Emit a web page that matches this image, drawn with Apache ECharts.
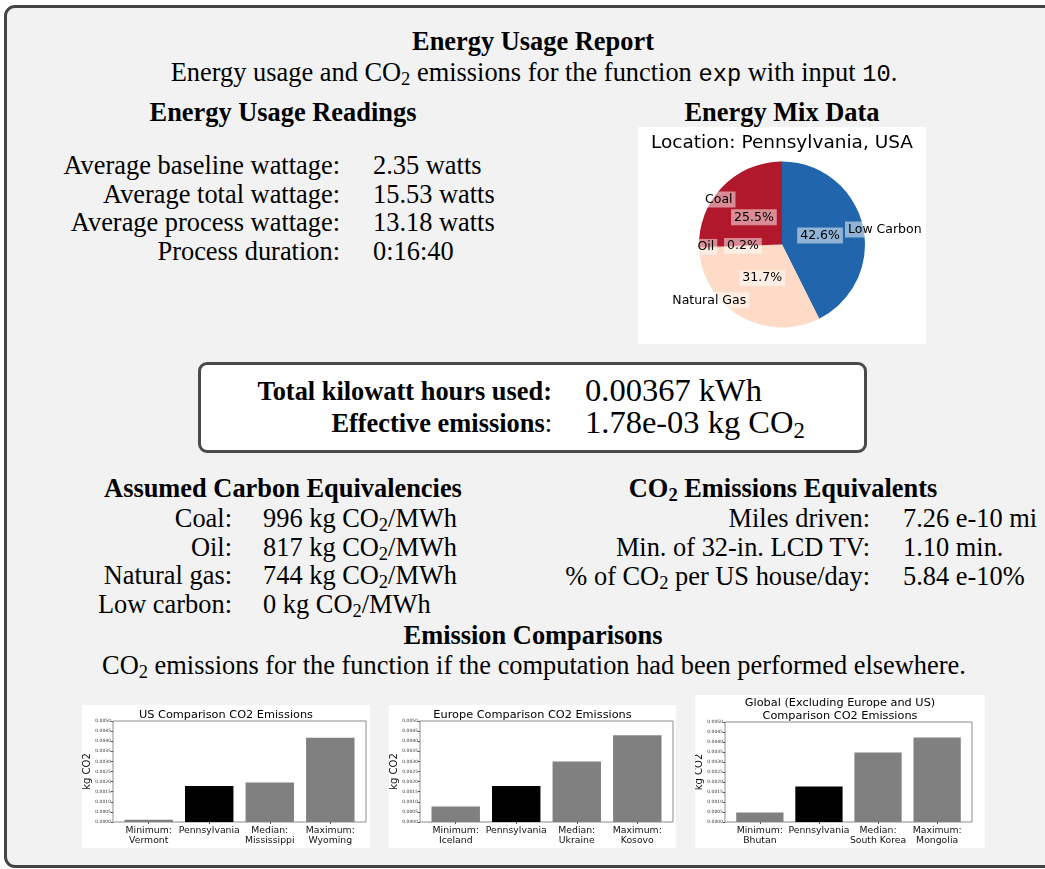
<!DOCTYPE html>
<html><head><meta charset="utf-8">
<script src="https://cdn.jsdelivr.net/npm/echarts@6/dist/echarts.min.js"></script>
<style>
html,body{margin:0;padding:0;background:#fff;width:1045px;height:869px;overflow:hidden;position:relative;}
#frame{position:absolute;left:4px;top:5px;width:1100px;height:863px;box-sizing:border-box;border:3px solid #444;border-radius:11px;background:#f2f2f2;}
.t{position:absolute;font-family:"Liberation Serif","Times New Roman",serif;font-size:26px;line-height:30px;white-space:nowrap;color:#000;}
.t sub{font-size:0.7em;vertical-align:-0.22em;line-height:0;}
.tt{font-family:"Liberation Mono",monospace;font-size:0.9em;}
#box{position:absolute;left:198px;top:362px;width:669px;height:91px;box-sizing:border-box;border:3px solid #4a4a4a;border-radius:9px;background:#fff;}
.chart{position:absolute;background:#fff;}
</style></head>
<body>
<div id="frame"></div>
<div id="box"></div>
<div id="pie" class="chart" style="left:638px;top:127px;width:288px;height:217px;"></div>
<div id="barUS" class="chart" style="left:82px;top:705px;width:288px;height:143px;"></div>
<div id="barEU" class="chart" style="left:389px;top:705px;width:287px;height:143px;"></div>
<div id="barGL" class="chart" style="left:695px;top:695px;width:290px;height:153px;"></div>
<script>
// ---------------- data ----------------
const reportTitle = 'Energy Usage Report';
const reportSubtitle = 'Energy usage and CO<sub>2</sub> emissions for the function <span class="tt">exp</span> with input <span class="tt">10</span>.';
const readingLabels = ['Average baseline wattage:', 'Average total wattage:', 'Average process wattage:', 'Process duration:'];
const readingValues = ['2.35 watts', '15.53 watts', '13.18 watts', '0:16:40'];
const boxLabels = ['<b>Total kilowatt hours used:</b>', '<b>Effective emissions</b>:'];
const boxValues = ['0.00367 kWh', '1.78e-03 kg CO<sub>2</sub>'];
const carbonLabels = ['Coal:', 'Oil:', 'Natural gas:', 'Low carbon:'];
const carbonValues = ['996', '817', '744', '0'];
const equivLabels = ['Miles driven:', 'Min. of 32-in. LCD TV:', '% of CO<sub>2</sub> per US house/day:'];
const equivValues = ['7.26 e-10 mi', '1.10 min.', '5.84 e-10%'];

const mixTitle = 'Location: Pennsylvania, USA';
const mixNames = ['Low Carbon', 'Natural Gas', 'Oil', 'Coal'];
const mixPercents = [42.6, 31.7, 0.2, 25.5];
const mixColors = ['#2166ac', '#fddbc7', '#ef8a62', '#b2182b'];

const usTitle = 'US Comparison CO2 Emissions';
const usCategories = ['Minimum:\nVermont', 'Pennsylvania', 'Median:\nMississippi', 'Maximum:\nWyoming'];
const usValues = [0.00011, 0.00178, 0.00195, 0.00417];
const euTitle = 'Europe Comparison CO2 Emissions';
const euCategories = ['Minimum:\nIceland', 'Pennsylvania', 'Median:\nUkraine', 'Maximum:\nKosovo'];
const euValues = [0.00077, 0.00178, 0.00299, 0.00429];
const glTitle = 'Global (Excluding Europe and US)\nComparison CO2 Emissions';
const glCategories = ['Minimum:\nBhutan', 'Pennsylvania', 'Median:\nSouth Korea', 'Maximum:\nMongolia'];
const glValues = [0.00048, 0.00178, 0.00347, 0.00422];
const yMax = 0.005, yStep = 0.0005;
const homeName = 'Pennsylvania';

// ---------------- text layout ----------------
function txt(html, o) {
  const d = document.createElement('div');
  d.className = 't';
  d.innerHTML = html;
  const fs = o.fs || 26.4, lh = Math.round(fs * 1.15);
  d.style.fontSize = fs + 'px';
  d.style.lineHeight = lh + 'px';
  d.style.top = (o.cy - lh / 2) + 'px';
  if (o.bold) d.style.fontWeight = 'bold';
  if (o.cx !== undefined) { d.style.left = (o.cx - 500) + 'px'; d.style.width = '1000px'; d.style.textAlign = 'center'; }
  else if (o.rx !== undefined) { d.style.left = (o.rx - 600) + 'px'; d.style.width = '600px'; d.style.textAlign = 'right'; }
  else { d.style.left = o.lx + 'px'; }
  document.body.appendChild(d);
}
txt(reportTitle, {cx: 533, cy: 41, bold: true});
txt(reportSubtitle, {cx: 534, cy: 72});
txt('Energy Usage Readings', {cx: 283, cy: 112, bold: true});
txt('Energy Mix Data', {cx: 782, cy: 112, bold: true});
readingLabels.forEach((l, i) => {
  const cy = 165 + i * 28.7;
  txt(l, {rx: 340, cy});
  txt(readingValues[i], {lx: 373, cy});
});
boxLabels.forEach((l, i) => {
  const cy = 391 + i * 32;
  txt(l, {rx: 552, cy});
  txt(boxValues[i], {lx: 585, cy: cy - 1, fs: 32.5});
});
txt('Assumed Carbon Equivalencies', {cx: 283, cy: 488, bold: true});
carbonLabels.forEach((l, i) => {
  const cy = 518 + i * 28.7;
  txt(l, {rx: 232, cy});
  txt(carbonValues[i] + ' kg CO<sub>2</sub>/MWh', {lx: 263, cy});
});
txt('CO<sub>2</sub> Emissions Equivalents', {cx: 783, cy: 488, bold: true});
equivLabels.forEach((l, i) => {
  const cy = 518 + i * 29;
  txt(l, {rx: 870, cy});
  txt(equivValues[i], {lx: 903, cy});
});
txt('Emission Comparisons', {cx: 533, cy: 635, bold: true});
txt('CO<sub>2</sub> emissions for the function if the computation had been performed elsewhere.', {cx: 534, cy: 665});

// ---------------- pie ----------------
const sans = 'DejaVu Sans';
const labelBox = {fontFamily: sans, fontSize: 12.5, color: '#000', backgroundColor: 'rgba(255,255,255,0.5)', padding: [2, 3, 1, 3]};
const pieData = mixNames.map((n, i) => ({name: n, value: mixPercents[i], itemStyle: {color: mixColors[i]}}));
const pieData2 = mixNames.map((n, i) => ({name: n, value: mixPercents[i]}));
const pieCenter = [144, 117.5], pieR = 83;
const pie = echarts.init(document.getElementById('pie'), null, {renderer: 'canvas'});
pie.setOption({
  animation: false,
  title: {text: mixTitle, left: 'center', top: 7, padding: 0, textStyle: {fontFamily: sans, fontSize: 18.5, fontWeight: 'normal', color: '#000'}},
  series: [
    {type: 'pie', center: pieCenter, radius: pieR, startAngle: 90, clockwise: true, silent: true,
     label: {show: false}, labelLine: {show: false}, data: pieData},
    {type: 'pie', center: pieCenter, radius: [0, pieR * 0.87], startAngle: 90, clockwise: true, silent: true,
     percentPrecision: 1, itemStyle: {color: 'rgba(0,0,0,0)'},
     label: Object.assign({show: true, position: 'inside', formatter: '{d}%'}, labelBox),
     labelLine: {show: false}, data: pieData2},
    {type: 'pie', center: pieCenter, radius: pieR * 0.78, startAngle: 90, clockwise: true, silent: true,
     avoidLabelOverlap: false, itemStyle: {color: 'rgba(0,0,0,0)'},
     label: Object.assign({show: true, position: 'outside', formatter: '{b}', distanceToLabelLine: 0}, labelBox),
     labelLine: {show: false, length: 0, length2: 0}, data: pieData2}
  ]
});

// ---------------- bars ----------------
function makeBar(id, title, cats, vals, g) {
  const chart = echarts.init(document.getElementById(id), null, {renderer: 'canvas'});
  const W = chart.getWidth() - g.left - g.right;
  const pad = W * 0.09 / 4.18; // matplotlib x margins beyond category band
  chart.setOption({
    animation: false,
    title: {text: title, left: 'center', top: g.titleTop, padding: 0,
      textStyle: {fontFamily: sans, fontSize: 11.3, fontWeight: 'normal', color: '#000', lineHeight: 13}},
    grid: [
      {left: g.left + pad, right: g.right + pad, top: g.top, bottom: g.bottom, containLabel: false, outerBoundsMode: 'none'},
      {left: g.left, right: g.right, top: g.top, bottom: g.bottom, show: true, borderColor: '#8c8c8c', borderWidth: 1, backgroundColor: 'transparent', outerBoundsMode: 'none'}
    ],
    xAxis: [
      {gridIndex: 0, type: 'category', data: cats, axisLine: {show: false},
       axisTick: {show: true, alignWithLabel: true, length: 2, lineStyle: {color: '#555'}},
       axisLabel: {interval: 0, fontFamily: sans, fontSize: 9.3, lineHeight: 10.5, color: '#111', margin: 3, hideOverlap: false}},
      {gridIndex: 1, type: 'value', show: false, min: 0, max: 1}
    ],
    yAxis: [
      {gridIndex: 0, type: 'value', min: 0, max: yMax, interval: yStep, offset: pad,
       name: 'kg CO2', nameLocation: 'middle', nameGap: 21, nameMoveOverlap: false,
       nameTextStyle: {fontFamily: sans, fontSize: 10, color: '#111'},
       axisLine: {show: false}, splitLine: {show: false},
       axisTick: {show: true, length: 2, lineStyle: {color: '#555'}},
       axisLabel: {fontFamily: sans, fontSize: 4.5, color: '#333', margin: 2, formatter: v => v.toFixed(4)}},
      {gridIndex: 1, type: 'value', show: false, min: 0, max: 1}
    ],
    series: [{type: 'bar', xAxisIndex: 0, yAxisIndex: 0, barCategoryGap: '20%',
      data: vals.map((v, i) => ({value: v, itemStyle: {color: cats[i] === homeName ? '#000' : '#808080'}}))}]
  });
}
makeBar('barUS', usTitle, usCategories, usValues, {left: 31, right: 4, top: 16, bottom: 26, titleTop: 3.5});
makeBar('barEU', euTitle, euCategories, euValues, {left: 31, right: 3, top: 16, bottom: 26, titleTop: 3.5});
makeBar('barGL', glTitle, glCategories, glValues, {left: 30, right: 13, top: 27, bottom: 26, titleTop: 1.5});
</script>
</body></html>
